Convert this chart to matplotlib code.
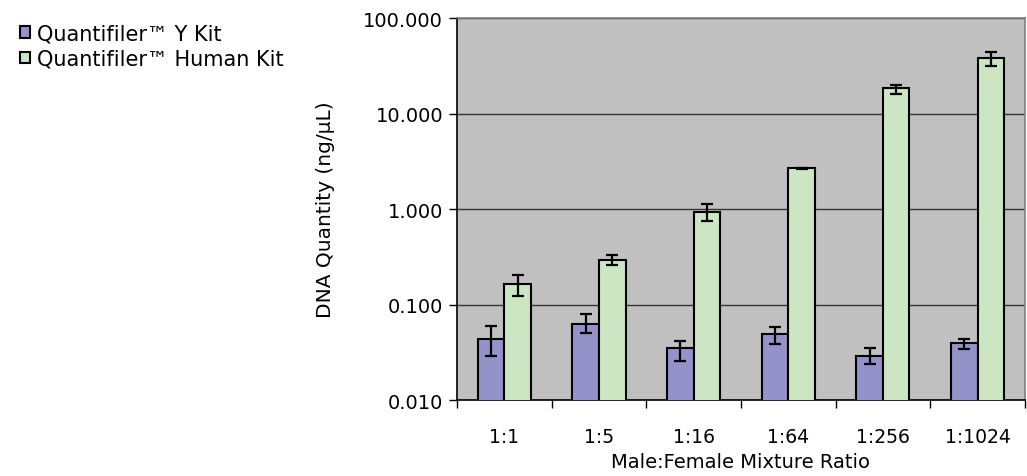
import numpy as np
import matplotlib.pyplot as plt
from matplotlib.patches import Patch

ratios = ['1:1', '1:5', '1:16', '1:64', '1:256', '1:1024']

# Quantifiler Y kit (ng/uL) and error-bar ends
y_kit = [0.0436, 0.0625, 0.0348, 0.049, 0.0287, 0.0393]
y_hi = [0.060, 0.079, 0.042, 0.058, 0.035, 0.0435]
y_lo = [0.029, 0.050, 0.026, 0.039, 0.0238, 0.0342]

# Quantifiler Human kit
h_kit = [0.164, 0.294, 0.937, 2.67, 18.4, 38.1]
h_hi = [0.203, 0.33, 1.12, 2.72, 20.0, 44.6]
h_lo = [0.123, 0.26, 0.76, 2.62, 16.0, 31.6]

BLUE = '#9393C9'; GREEN = '#CCE6C4'; BG = '#C0C0C0'

fig = plt.figure(figsize=(10.27, 4.77), dpi=100)
ax = fig.add_axes([0.445, 0.159, 0.553, 0.801])
ax.set_facecolor(BG)

x = np.arange(len(ratios))
w = 0.28
y_kit = np.array(y_kit); h_kit = np.array(h_kit)
yerr_y = [y_kit - np.array(y_lo), np.array(y_hi) - y_kit]
yerr_h = [h_kit - np.array(h_lo), np.array(h_hi) - h_kit]

ekw = dict(elinewidth=1.6, capthick=1.6, ecolor='black')
ax.bar(x - w/2, y_kit, w, color=BLUE, edgecolor='black', lw=1.5,
       yerr=yerr_y, capsize=4, error_kw=ekw, zorder=3)
ax.bar(x + w/2, h_kit, w, color=GREEN, edgecolor='black', lw=1.5,
       yerr=yerr_h, capsize=4, error_kw=ekw, zorder=3)

ax.set_yscale('log')
ax.set_ylim(0.01, 100)
ax.set_xlim(-0.5, len(ratios) - 0.5)
yt = [0.01, 0.1, 1, 10, 100]
ax.set_yticks(yt)
ax.set_yticklabels(['%.3f' % v for v in yt])
ax.yaxis.set_minor_locator(plt.NullLocator())
ax.grid(axis='y', color='#333333', lw=1.0, zorder=1)

ax.set_xticks(x)
ax.set_xticklabels(ratios)
ax.set_xticks(np.arange(-0.5, len(ratios)), minor=True)
ax.tick_params(axis='x', which='major', length=0, pad=19, labelsize=13.5)
ax.tick_params(axis='x', which='minor', length=6, width=1, direction='out')
ax.tick_params(axis='y', length=6, width=1, labelsize=14, direction='out', pad=4)

for s in ['left', 'bottom']:
    ax.spines[s].set_color('black'); ax.spines[s].set_linewidth(1.2)
for s in ['top', 'right']:
    ax.spines[s].set_color('#808080'); ax.spines[s].set_linewidth(1.2)

ax.set_xlabel('Male:Female Mixture Ratio', fontsize=14, labelpad=5)
ax.set_ylabel('DNA Quantity (ng/\u00b5L)', fontsize=14.5, labelpad=20)

handles = [Patch(facecolor=BLUE, edgecolor='black', lw=1.5),
           Patch(facecolor=GREEN, edgecolor='black', lw=1.5)]
fig.legend(handles, ['Quantifiler\u2122 Y Kit', 'Quantifiler\u2122 Human Kit'],
           loc='upper left', bbox_to_anchor=(0.005, 0.98), frameon=False,
           fontsize=15, handlelength=0.5, handleheight=0.5, handletextpad=0.35,
           labelspacing=0.28, borderaxespad=0.3)

fig.savefig('out.png', dpi=100)
